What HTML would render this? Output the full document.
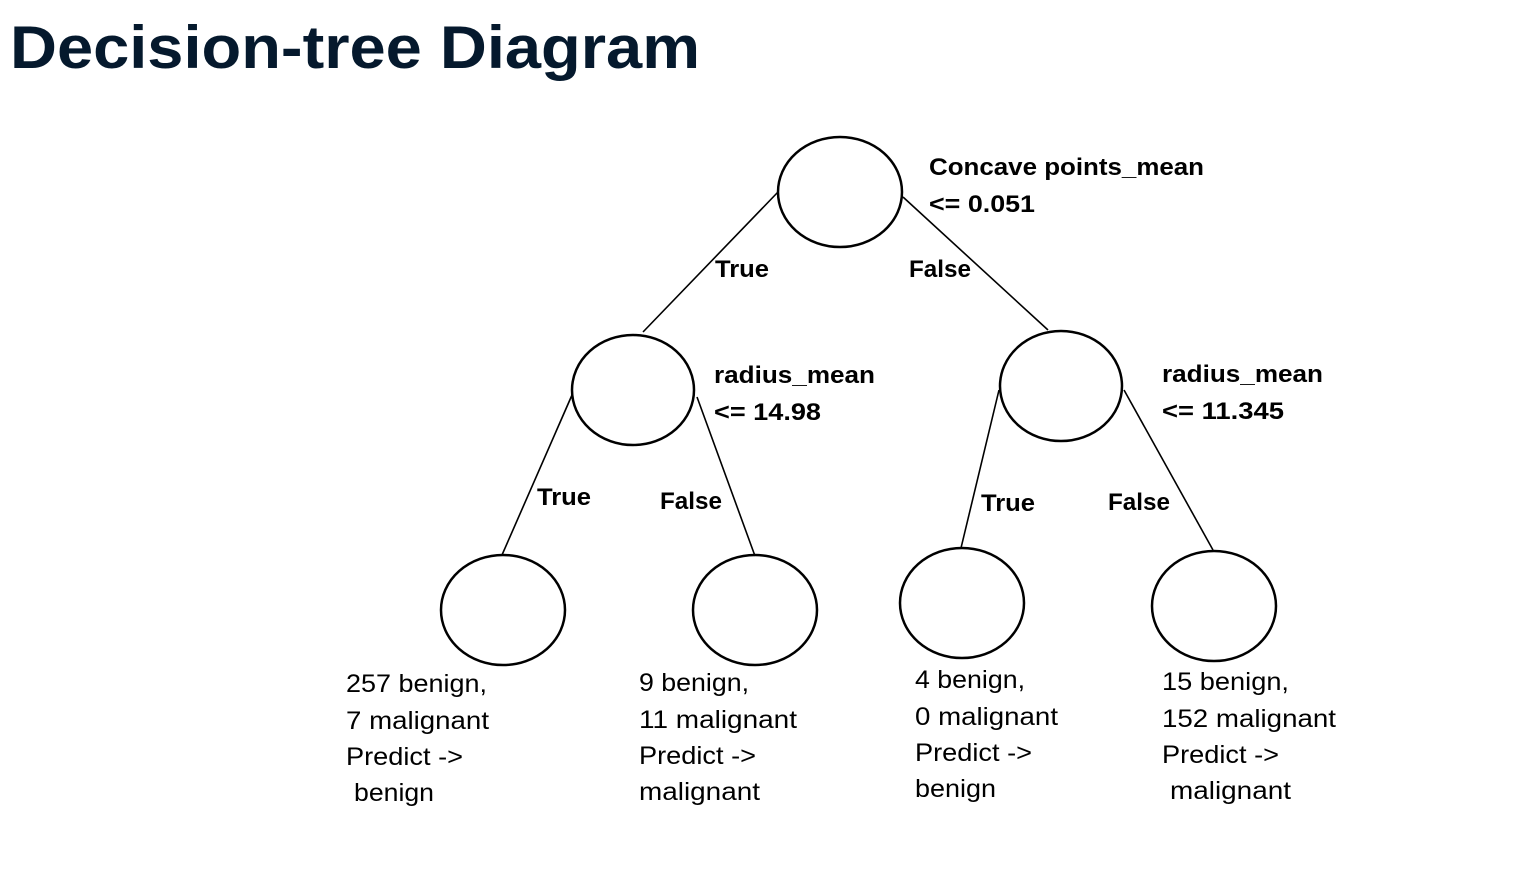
<!DOCTYPE html>
<html><head><meta charset="utf-8"><style>
html,body{margin:0;padding:0;background:#fff;width:1516px;height:880px;overflow:hidden}
svg{display:block}
.t{font-family:"Liberation Sans",sans-serif;font-weight:bold;font-size:24px;fill:#000}
.r{font-family:"Liberation Sans",sans-serif;font-size:25px;fill:#000}
</style></head><body>
<svg width="1516" height="880" viewBox="0 0 1516 880">
<text x="10" y="68" font-family="Liberation Sans, sans-serif" font-weight="bold" font-size="60" fill="#05192d" textLength="690" lengthAdjust="spacingAndGlyphs">Decision-tree Diagram</text>
<g fill="none" stroke="#000" stroke-width="2.5">
<ellipse cx="840" cy="192" rx="62" ry="55"/>
<ellipse cx="633" cy="390" rx="61" ry="55"/>
<ellipse cx="1061" cy="386" rx="61" ry="55"/>
<ellipse cx="503" cy="610" rx="62" ry="55"/>
<ellipse cx="755" cy="610" rx="62" ry="55"/>
<ellipse cx="962" cy="603" rx="62" ry="55"/>
<ellipse cx="1214" cy="606" rx="62" ry="55"/>
</g>
<g stroke="#000" stroke-width="1.6">
<line x1="778" y1="192" x2="643" y2="332"/>
<line x1="903" y1="197" x2="1048" y2="330"/>
<line x1="572" y1="395" x2="502" y2="555"/>
<line x1="697" y1="397" x2="755" y2="556"/>
<line x1="999" y1="390" x2="961" y2="548"/>
<line x1="1124" y1="390" x2="1213" y2="550"/>
</g>
<g lengthAdjust="spacingAndGlyphs">
<text class="t" x="929" y="175" textLength="275" lengthAdjust="spacingAndGlyphs">Concave points_mean</text>
<text class="t" x="929" y="212" textLength="106" lengthAdjust="spacingAndGlyphs">&lt;= 0.051</text>
<text class="t" x="715" y="277" textLength="54" lengthAdjust="spacingAndGlyphs">True</text>
<text class="t" x="909" y="277" textLength="62" lengthAdjust="spacingAndGlyphs">False</text>
<text class="t" x="714" y="383" textLength="161" lengthAdjust="spacingAndGlyphs">radius_mean</text>
<text class="t" x="714" y="420" textLength="107" lengthAdjust="spacingAndGlyphs">&lt;= 14.98</text>
<text class="t" x="1162" y="382" textLength="161" lengthAdjust="spacingAndGlyphs">radius_mean</text>
<text class="t" x="1162" y="419" textLength="122" lengthAdjust="spacingAndGlyphs">&lt;= 11.345</text>
<text class="t" x="537" y="505" textLength="54" lengthAdjust="spacingAndGlyphs">True</text>
<text class="t" x="660" y="509" textLength="62" lengthAdjust="spacingAndGlyphs">False</text>
<text class="t" x="981" y="511" textLength="54" lengthAdjust="spacingAndGlyphs">True</text>
<text class="t" x="1108" y="510" textLength="62" lengthAdjust="spacingAndGlyphs">False</text>

<text class="r" x="346" y="692" textLength="141" lengthAdjust="spacingAndGlyphs">257 benign,</text>
<text class="r" x="346" y="729" textLength="143" lengthAdjust="spacingAndGlyphs">7 malignant</text>
<text class="r" x="346" y="765" textLength="117" lengthAdjust="spacingAndGlyphs">Predict -&gt;</text>
<text class="r" x="354" y="801" textLength="80" lengthAdjust="spacingAndGlyphs">benign</text>
<text class="r" x="639" y="691" textLength="110" lengthAdjust="spacingAndGlyphs">9 benign,</text>
<text class="r" x="639" y="728" textLength="158" lengthAdjust="spacingAndGlyphs">11 malignant</text>
<text class="r" x="639" y="764" textLength="117" lengthAdjust="spacingAndGlyphs">Predict -&gt;</text>
<text class="r" x="639" y="800" textLength="121" lengthAdjust="spacingAndGlyphs">malignant</text>
<text class="r" x="915" y="688" textLength="110" lengthAdjust="spacingAndGlyphs">4 benign,</text>
<text class="r" x="915" y="725" textLength="143" lengthAdjust="spacingAndGlyphs">0 malignant</text>
<text class="r" x="915" y="761" textLength="117" lengthAdjust="spacingAndGlyphs">Predict -&gt;</text>
<text class="r" x="915" y="797" textLength="81" lengthAdjust="spacingAndGlyphs">benign</text>
<text class="r" x="1162" y="690" textLength="127" lengthAdjust="spacingAndGlyphs">15 benign,</text>
<text class="r" x="1162" y="727" textLength="174" lengthAdjust="spacingAndGlyphs">152 malignant</text>
<text class="r" x="1162" y="763" textLength="117" lengthAdjust="spacingAndGlyphs">Predict -&gt;</text>
<text class="r" x="1170" y="799" textLength="121" lengthAdjust="spacingAndGlyphs">malignant</text>
</g>
</svg>
</body></html>
